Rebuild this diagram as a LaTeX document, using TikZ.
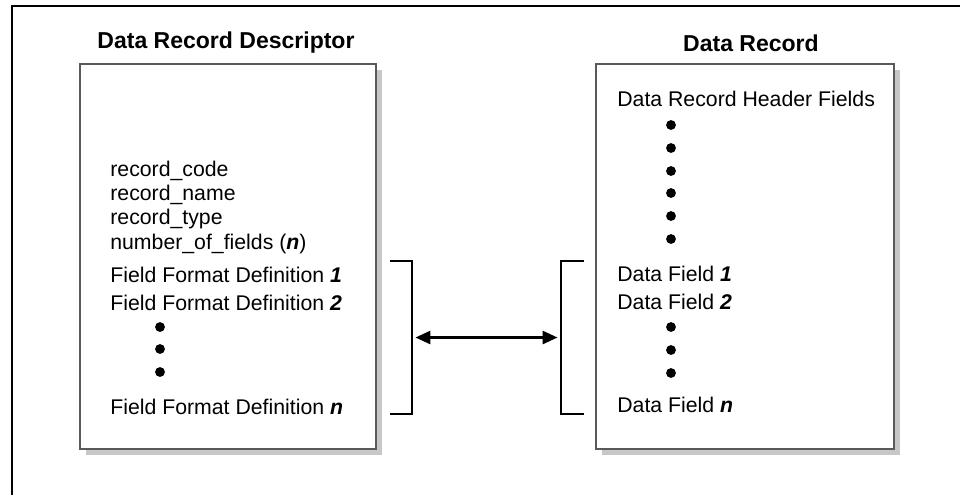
\documentclass[tikz,border=0pt]{standalone}
\usepackage{fontspec}
\setmainfont{Liberation Sans}
\usetikzlibrary{arrows.meta,shadows,positioning,calc}

\tikzset{
  recbox/.style={draw=black!65, fill=white, line width=0.7pt, inner sep=0pt,
    minimum height=7.7cm,
    drop shadow={shadow xshift=3.4pt, shadow yshift=-3.4pt, fill=black!22, opacity=1}},
  title/.style={font=\fontsize{13.1}{15}\selectfont\bfseries},
  entry/.style={anchor=west, inner sep=0pt, font=\fontsize{12.1}{14}\selectfont},
  dot/.style={fill=black},
  bracket/.style={line width=1.3pt},
  link/.style={line width=1.3pt, {Triangle[length=8.5pt,width=7.5pt]}-{Triangle[length=8.5pt,width=7.5pt]}}
}
\newcommand{\bidx}[1]{\textbf{\textit{#1}}}

\begin{document}
\begin{tikzpicture}[x=0.02cm, y=-0.02cm]
%\draw [help lines, step=10](0,0) grid (960,495);
\useasboundingbox (0,0) rectangle (960,495);

% frame
\draw [line width=1.2pt] (12,495) -- (12,6) -- (960,6);

% titles
\node [title] (desctitle) at (226,43) {Data Record Descriptor};
\node [title] (rectitle) at (751,43) {Data Record};

% boxes
\node [recbox, minimum width=5.92cm] (descbox) at (228,256.5) {};
\node [recbox, minimum width=5.96cm] (recbox) at (745,256.5) {};

% descriptor entries
\node [entry] (rcode) at (110,171) {record\_code};
\node [entry] (rname) at (110,195) {record\_name};
\node [entry] (rtype) at (110,219) {record\_type};
\node [entry] (nfields) at (110,244) {number\_of\_fields (\bidx{n})};
\node [entry] (ffd1) at (110,275) {Field Format Definition \bidx{1}};
\node [entry] (ffd2) at (110,303) {Field Format Definition \bidx{2}};
\node [entry] (ffdn) at (110,407) {Field Format Definition \bidx{n}};
\foreach \y in {327,349,372}
  \fill [dot] (160,\y) circle (2.8pt);

% record entries
\node [entry] (hdr) at (617,99) {Data Record Header Fields};
\foreach \y in {125,148,171,193,216,239}
  \fill [dot] (671,\y) circle (2.8pt);
\node [entry] (df1) at (617,274) {Data Field \bidx{1}};
\node [entry] (df2) at (617,302) {Data Field \bidx{2}};
\node [entry] (dfn) at (617,405) {Data Field \bidx{n}};
\foreach \y in {327,350,373}
  \fill [dot] (671,\y) circle (2.8pt);

% brackets
\coordinate (lbtop) at (390,261);
\coordinate (lbbot) at (390,414);
\coordinate (rbtop) at (584,261);
\coordinate (rbbot) at (584,414);
\draw [bracket] (lbtop) -- ++(22,0) coordinate (lbtr) -- ++(0,153) coordinate (lbbr) -- (lbbot);
\draw [bracket] (rbtop) -- ++(-23,0) coordinate (rbtl) -- ++(0,153) coordinate (rbbl) -- (rbbot);
\coordinate (lbmid) at ($(lbtr)!0.5!(lbbr)$);
\coordinate (rbmid) at ($(rbtl)!0.5!(rbbl)$);
\draw [link] ([xshift=2pt]lbmid) -- ([xshift=-2pt]rbmid);

\end{tikzpicture}
\end{document}
